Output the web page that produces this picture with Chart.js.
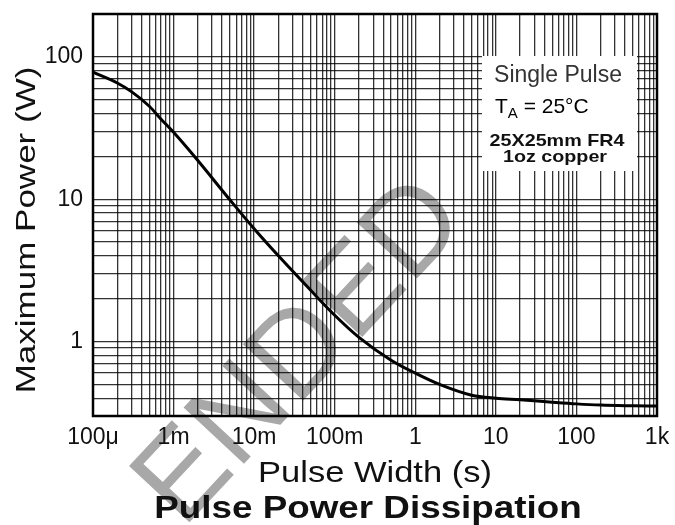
<!DOCTYPE html>
<html>
<head>
<meta charset="utf-8">
<script src="https://cdn.jsdelivr.net/npm/chart.js@4.4.1/dist/chart.umd.min.js"></script>
<style>
  html, body { margin: 0; padding: 0; background: #fff; }
  #wrap { width: 675px; height: 525px; }
</style>
</head>
<body>
<div id="wrap"><canvas id="chart" width="675" height="525"></canvas></div>
<script>
// single pulse curve
const pulseWidth = [1e-4, 2e-4, 3e-4, 5e-4, 7e-4, 1e-3, 2e-3, 5e-3, 1e-2, 2e-2, 5e-2, 0.1, 0.2, 0.5, 1, 2, 5, 10, 20, 50, 100, 200, 500, 1000];
const maxPower = [78, 65.5, 57, 45, 36.5, 29.5, 18.7, 9.9, 6.2, 4.0, 2.3, 1.53, 1.07, 0.74, 0.60, 0.50, 0.42, 0.40, 0.39, 0.375, 0.365, 0.358, 0.354, 0.352];

// axis ranges and labelled ticks
const xRange = [1e-4, 1000];
const yRange = [0.3, 200];
const xDecades = [1e-4, 1e-3, 1e-2, 1e-1, 1, 10, 100, 1000];
const xTickLabels = ['100μ', '1m', '10m', '100m', '1', '10', '100', '1k'];
const yDecades = [1, 10, 100];
const yTickLabels = ['1', '10', '100'];

const noteLines = ['Single Pulse', '25X25mm FR4', '1oz copper'];
const watermark = 'ENDED';
const FONT = '"Liberation Sans", Arial, sans-serif';

// every 1..9 x 10^n value inside the range -> one grid line each
function logGrid(min, max) {
  const out = [];
  for (let e = Math.floor(Math.log10(min)); e <= Math.ceil(Math.log10(max)); e++) {
    for (let m = 1; m < 10; m++) {
      const v = parseFloat((m * Math.pow(10, e)).toPrecision(6));
      if (v >= min * 0.9999 && v <= max * 1.0001) out.push(v);
    }
  }
  return out;
}

function labelFor(value, decades, labels) {
  const i = decades.findIndex(d => Math.abs(d - value) / d < 1e-6);
  return i >= 0 ? labels[i] : '';
}

// no extra room for the edge labels, the plot box is fixed
function noEdgePadding(s) {
  s.paddingTop = 0;
  s.paddingBottom = 0;
  s.paddingLeft = 0;
  s.paddingRight = 0;
}

function drawText(ctx, text, x, y, font, sx, angle, align, color) {
  ctx.save();
  ctx.translate(x, y);
  ctx.rotate(angle || 0);
  ctx.scale(sx, 1);
  ctx.font = font;
  ctx.fillStyle = color || '#000';
  ctx.textAlign = align || 'center';
  ctx.textBaseline = 'alphabetic';
  ctx.fillText(text, 0, 0);
  ctx.restore();
}

const decor = {
  id: 'decor',
  beforeDraw(chart) {
    // grey stamp behind everything, lines and text print over it
    drawText(chart.ctx, watermark, 326, 376, '120px ' + FONT, 1, -47 * Math.PI / 180, 'center', '#a8a8a8');
  },
  beforeDatasetsDraw(chart) {
    const ctx = chart.ctx;
    // white note box over the grid
    ctx.save();
    ctx.fillStyle = '#fff';
    ctx.fillRect(482, 56, 155, 115);
    ctx.restore();
  },
  afterDraw(chart) {
    const ctx = chart.ctx;
    const a = chart.chartArea;

    // frame
    ctx.save();
    ctx.strokeStyle = '#000';
    ctx.lineWidth = 2.5;
    ctx.strokeRect(a.left, a.top, a.right - a.left, a.bottom - a.top);
    ctx.restore();

    // note box text
    drawText(ctx, noteLines[0], 558, 82, '23px ' + FONT, 1, 0, 'center', '#333');
    ctx.save();
    ctx.font = '21px ' + FONT;
    ctx.fillStyle = '#000';
    ctx.textBaseline = 'alphabetic';
    let x = 495;
    ctx.fillText('T', x, 113);
    x += ctx.measureText('T').width;
    ctx.font = '15px ' + FONT;
    ctx.fillText('A', x, 118);
    x += ctx.measureText('A').width;
    ctx.font = '21px ' + FONT;
    ctx.fillText(' = 25°C', x, 113);
    ctx.restore();
    drawText(ctx, noteLines[1], 557, 146, 'bold 17px ' + FONT, 1.16, 0, 'center', '#111');
    drawText(ctx, noteLines[2], 555, 162, 'bold 17px ' + FONT, 1.16, 0, 'center', '#111');

    // axis titles and caption
    drawText(ctx, 'Maximum Power (W)', 35, 230, '28px ' + FONT, 1.25, -Math.PI / 2, 'center', '#111');
    drawText(ctx, 'Pulse Width (s)', 375, 482, '30px ' + FONT, 1.15, 0, 'center', '#111');
    drawText(ctx, 'Pulse Power Dissipation', 368, 518, 'bold 32px ' + FONT, 1.15, 0, 'center', '#111');
  }
};

const ctx = document.getElementById('chart');

try {
  const chart = new Chart(ctx, {
    type: 'line',
    data: {
      datasets: [{
        label: 'Single Pulse',
        data: pulseWidth.map((w, i) => ({ x: w, y: maxPower[i] })),
        borderColor: '#000',
        borderWidth: 3,
        pointRadius: 0,
        cubicInterpolationMode: 'monotone',
        fill: false,
      }],
    },
    options: {
      responsive: false,
      animation: false,
      layout: { padding: { top: 14, right: 18, left: 0, bottom: 0 } },
      plugins: { legend: { display: false }, tooltip: { enabled: false } },
      scales: {
        x: {
          type: 'logarithmic',
          min: xRange[0],
          max: xRange[1],
          afterBuildTicks: s => { s.ticks = logGrid(xRange[0], xRange[1]).map(v => ({ value: v })); },
          afterFit: s => { s.height = 109; noEdgePadding(s); },
          grid: { color: 'rgba(0,0,0,0.8)', lineWidth: 1.3, drawTicks: false },
          border: { display: false },
          ticks: {
            autoSkip: false,
            maxRotation: 0,
            padding: 8,
            color: '#111',
            font: { family: FONT, size: 23 },
            callback: v => labelFor(v, xDecades, xTickLabels),
          },
        },
        y: {
          type: 'logarithmic',
          min: yRange[0],
          max: yRange[1],
          afterBuildTicks: s => { s.ticks = logGrid(yRange[0], yRange[1]).map(v => ({ value: v })); },
          afterFit: s => { s.width = 93; noEdgePadding(s); },
          grid: { color: 'rgba(0,0,0,0.8)', lineWidth: 1.3, drawTicks: false },
          border: { display: false },
          ticks: {
            autoSkip: false,
            padding: 10,
            color: '#111',
            font: { family: FONT, size: 23 },
            callback: v => labelFor(v, yDecades, yTickLabels),
          },
        },
      },
    },
    plugins: [decor],
  });
  console.log('chart ok', chart.chartArea);
} catch (err) {
  console.error('chart failed:', err);
}
</script>
</body>
</html>
